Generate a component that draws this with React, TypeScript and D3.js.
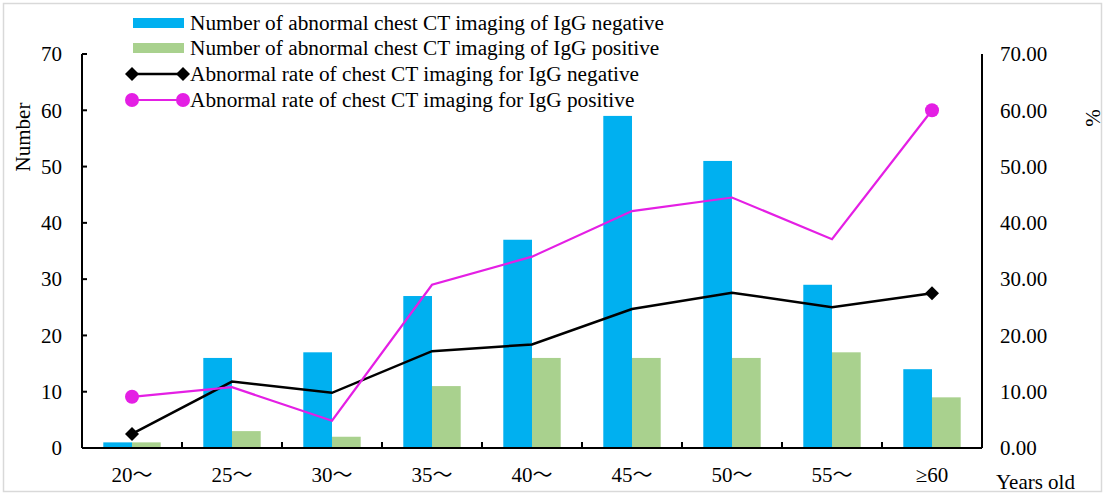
import React from "react";
import * as d3 from "d3";

const categories = ["20～", "25～", "30～", "35～", "40～", "45～", "50～", "55～", "≥60"];
const countNegative = [1, 16, 17, 27, 37, 59, 51, 29, 14];
const countPositive = [1, 3, 2, 11, 16, 16, 16, 17, 9];
const rateNegative = [2.5, 11.8, 9.8, 17.2, 18.4, 24.7, 27.6, 25.0, 27.5];
const ratePositive = [9.1, 10.8, 4.85, 29.0, 34.0, 42.1, 44.5, 37.1, 60.0];
const leftTicks = [0, 10, 20, 30, 40, 50, 60, 70];
const rightTicks = [0, 10, 20, 30, 40, 50, 60, 70];
const legendLabels = [
  "Number of abnormal chest CT imaging of IgG negative",
  "Number of abnormal chest CT imaging of IgG positive",
  "Abnormal rate of chest CT imaging for IgG negative",
  "Abnormal rate of chest CT imaging for IgG positive",
];

const W = 1104;
const H = 495;
const left = 82;
const right = 982;
const top = 54;
const bottom = 448;
const BLUE = "#00B0F0";
const GREEN = "#A9D18E";
const MAGENTA = "#E41FE4";
const FONT = "'Liberation Serif', 'Times New Roman', serif";
const CJK = "'Noto Sans CJK SC', sans-serif";

function CatLabel({ text, x, y }: { text: string; x: number; y: number }) {
  const parts = text.split("～");
  if (parts.length === 1) {
    return (
      <text x={x} y={y} textAnchor="middle" fontSize={21}>
        {text}
      </text>
    );
  }
  return (
    <text x={x} y={y} textAnchor="middle" fontSize={21}>
      {parts[0]}
      <tspan fontFamily={CJK} fontSize={20}>～</tspan>
    </text>
  );
}

export default function App() {
  const x = d3.scaleBand<string>().domain(categories).range([left, right]).padding(0);
  const sub = d3
    .scaleBand<string>()
    .domain(["neg", "pos"])
    .range([0, x.bandwidth()])
    .paddingInner(0)
    .paddingOuter(0.742);
  const yL = d3.scaleLinear().domain([0, 70]).range([bottom, top]);
  const yR = d3.scaleLinear().domain([0, 70]).range([bottom, top]);
  const cx = (c: string) => (x(c) as number) + x.bandwidth() / 2;

  const line = d3
    .line<number>()
    .x((_, i) => cx(categories[i]))
    .y((d) => yR(d));

  const diamond = (px: number, py: number, r: number) =>
    `M${px},${py - r}L${px + r},${py}L${px},${py + r}L${px - r},${py}Z`;

  const lastI = categories.length - 1;
  const legendY = [23, 48, 74, 100];

  return (
    <div style={{ position: "absolute", left: 0, top: 0 }}>
      <svg width={W} height={H} style={{ display: "block", background: "#fff" }} fontFamily={FONT}>
        <rect x={3.5} y={3.5} width={W - 6} height={H - 7} fill="#fff" stroke="#d9d9d9" strokeWidth={1.5} />

        {/* bars */}
        {categories.map((c, i) => (
          <g key={c}>
            <rect
              x={(x(c) as number) + (sub("neg") as number)}
              y={yL(countNegative[i])}
              width={sub.bandwidth()}
              height={bottom - yL(countNegative[i])}
              fill={BLUE}
            />
            <rect
              x={(x(c) as number) + (sub("pos") as number)}
              y={yL(countPositive[i])}
              width={sub.bandwidth()}
              height={bottom - yL(countPositive[i])}
              fill={GREEN}
            />
          </g>
        ))}

        {/* axes */}
        <line x1={left} x2={left} y1={top} y2={bottom} stroke="#000" strokeWidth={2} />
        <line x1={right} x2={right} y1={top} y2={bottom} stroke="#000" strokeWidth={2} />
        <line x1={left} x2={right} y1={bottom} y2={bottom} stroke="#000" strokeWidth={2} />
        {leftTicks.map((t) => (
          <g key={"l" + t}>
            <line x1={left} x2={left + 5} y1={yL(t)} y2={yL(t)} stroke="#000" strokeWidth={2} />
            <text x={62} y={yL(t)} dy="0.35em" textAnchor="end" fontSize={21}>
              {t}
            </text>
          </g>
        ))}
        {rightTicks.map((t) => (
          <text key={"r" + t} x={1000} y={yR(t)} dy="0.35em" textAnchor="start" fontSize={21}>
            {t.toFixed(2)}
          </text>
        ))}
        {categories.slice(1).map((c) => (
          <line
            key={"t" + c}
            x1={x(c) as number}
            x2={x(c) as number}
            y1={bottom}
            y2={bottom - 6}
            stroke="#000"
            strokeWidth={2}
          />
        ))}
        {categories.map((c) => (
          <CatLabel key={"c" + c} text={c} x={cx(c)} y={482} />
        ))}
        <text x={996} y={489} fontSize={21}>
          Years old
        </text>
        <text transform="translate(30,137) rotate(-90)" textAnchor="middle" fontSize={21}>
          Number
        </text>
        <text transform="translate(1100,118) rotate(-90)" textAnchor="middle" fontSize={21}>
          %
        </text>

        {/* lines */}
        <path d={line(rateNegative) || ""} fill="none" stroke="#000" strokeWidth={2.5} />
        <path d={line(ratePositive) || ""} fill="none" stroke={MAGENTA} strokeWidth={2.2} />
        {[0, lastI].map((i) => (
          <g key={"m" + i}>
            <path d={diamond(cx(categories[i]), yR(rateNegative[i]), 7)} fill="#000" />
            <circle cx={cx(categories[i])} cy={yR(ratePositive[i])} r={7} fill={MAGENTA} />
          </g>
        ))}

        {/* legend */}
        <rect x={133} y={legendY[0] - 5} width={51} height={10} fill={BLUE} />
        <rect x={133} y={legendY[1] - 5} width={51} height={10} fill={GREEN} />
        <line x1={132} x2={183} y1={legendY[2]} y2={legendY[2]} stroke="#000" strokeWidth={2.5} />
        <path d={diamond(132, legendY[2], 7)} fill="#000" />
        <path d={diamond(183, legendY[2], 7)} fill="#000" />
        <line x1={132} x2={183} y1={legendY[3]} y2={legendY[3]} stroke={MAGENTA} strokeWidth={2.2} />
        <circle cx={132} cy={legendY[3]} r={7} fill={MAGENTA} />
        <circle cx={183} cy={legendY[3]} r={7} fill={MAGENTA} />
        {legendLabels.map((l, i) => (
          <text key={l} x={190} y={legendY[i]} dy="0.35em" fontSize={21.3}>
            {l}
          </text>
        ))}
      </svg>
    </div>
  );
}
